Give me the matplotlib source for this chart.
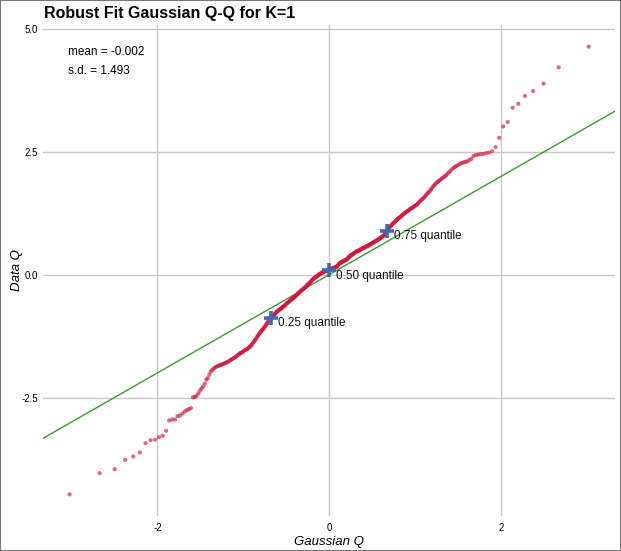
import matplotlib
matplotlib.use('Agg')
import matplotlib.pyplot as plt
from matplotlib.patches import Rectangle
from statistics import NormalDist

plt.rcParams['font.family'] = ['Liberation Sans', 'DejaVu Sans']

# sorted sample values (Data Q)
data_q = [
    -4.45, -4.02, -3.94, -3.75, -3.68, -3.60, -3.41, -3.35, -3.34, -3.29,
    -3.26, -3.16, -2.95, -2.93, -2.93, -2.86, -2.85, -2.81, -2.77, -2.74,
    -2.72, -2.70, -2.48, -2.47, -2.45, -2.40, -2.34, -2.30, -2.26, -2.20,
    -2.12, -2.09, -2.02, -1.96, -1.93, -1.90, -1.88, -1.86, -1.85, -1.84,
    -1.83, -1.82, -1.81, -1.80, -1.79, -1.78, -1.77, -1.76, -1.75, -1.73,
    -1.72, -1.71, -1.69, -1.68, -1.67, -1.65, -1.64, -1.62, -1.61, -1.59,
    -1.58, -1.57, -1.56, -1.55, -1.53, -1.52, -1.51, -1.50, -1.49, -1.48,
    -1.46, -1.45, -1.43, -1.41, -1.39, -1.36, -1.34, -1.32, -1.30, -1.27,
    -1.25, -1.23, -1.20, -1.18, -1.16, -1.14, -1.12, -1.11, -1.09, -1.07,
    -1.05, -1.03, -1.01, -0.99, -0.97, -0.94, -0.91, -0.88, -0.87, -0.86,
    -0.85, -0.84, -0.83, -0.81, -0.80, -0.79, -0.77, -0.76, -0.74, -0.73,
    -0.72, -0.71, -0.70, -0.69, -0.68, -0.67, -0.66, -0.65, -0.64, -0.63,
    -0.62, -0.61, -0.60, -0.58, -0.57, -0.56, -0.55, -0.54, -0.53, -0.52,
    -0.51, -0.50, -0.49, -0.48, -0.47, -0.46, -0.45, -0.44, -0.43, -0.42,
    -0.41, -0.40, -0.38, -0.37, -0.36, -0.35, -0.34, -0.33, -0.32, -0.31,
    -0.30, -0.29, -0.28, -0.27, -0.26, -0.25, -0.24, -0.23, -0.22, -0.21,
    -0.19, -0.18, -0.17, -0.16, -0.15, -0.14, -0.13, -0.11, -0.10, -0.09,
    -0.08, -0.07, -0.06, -0.05, -0.04, -0.04, -0.03, -0.02, -0.01, 0.00,
    0.01, 0.01, 0.02, 0.03, 0.03, 0.04, 0.05, 0.05, 0.06, 0.07,
    0.07, 0.08, 0.08, 0.08, 0.09, 0.09, 0.09, 0.10, 0.10, 0.10,
    0.11, 0.11, 0.12, 0.12, 0.13, 0.13, 0.14, 0.14, 0.15, 0.15,
    0.16, 0.16, 0.17, 0.17, 0.18, 0.19, 0.20, 0.22, 0.23, 0.24,
    0.25, 0.25, 0.26, 0.27, 0.27, 0.28, 0.29, 0.29, 0.30, 0.30,
    0.31, 0.31, 0.32, 0.33, 0.34, 0.35, 0.37, 0.38, 0.39, 0.40,
    0.41, 0.41, 0.42, 0.43, 0.44, 0.45, 0.45, 0.46, 0.47, 0.48,
    0.48, 0.49, 0.49, 0.50, 0.50, 0.51, 0.52, 0.52, 0.53, 0.54,
    0.54, 0.55, 0.56, 0.56, 0.57, 0.57, 0.58, 0.59, 0.59, 0.60,
    0.60, 0.61, 0.62, 0.63, 0.63, 0.64, 0.65, 0.66, 0.66, 0.67,
    0.68, 0.69, 0.69, 0.70, 0.71, 0.72, 0.72, 0.73, 0.74, 0.75,
    0.76, 0.77, 0.78, 0.79, 0.80, 0.81, 0.83, 0.86, 0.88, 0.90,
    0.92, 0.94, 0.96, 0.97, 0.99, 1.00, 1.02, 1.03, 1.05, 1.06,
    1.07, 1.09, 1.10, 1.12, 1.13, 1.15, 1.16, 1.17, 1.18, 1.20,
    1.21, 1.22, 1.24, 1.25, 1.26, 1.28, 1.29, 1.30, 1.31, 1.32,
    1.34, 1.35, 1.36, 1.37, 1.38, 1.40, 1.41, 1.42, 1.43, 1.45,
    1.47, 1.49, 1.51, 1.53, 1.55, 1.56, 1.58, 1.61, 1.63, 1.66,
    1.68, 1.70, 1.73, 1.76, 1.79, 1.82, 1.84, 1.87, 1.89, 1.91,
    1.93, 1.95, 1.97, 1.99, 2.01, 2.03, 2.06, 2.09, 2.12, 2.15,
    2.18, 2.20, 2.22, 2.24, 2.26, 2.28, 2.29, 2.30, 2.31, 2.34,
    2.36, 2.42, 2.44, 2.45, 2.46, 2.46, 2.48, 2.49, 2.52, 2.60,
    2.79, 3.02, 3.11, 3.40, 3.48, 3.64, 3.74, 3.89, 4.22, 4.64,
]

quantile_probs = [0.25, 0.50, 0.75]
quantile_vals = [-0.86, 0.105, 0.90]
quantile_labels = ['0.25 quantile', '0.50 quantile', '0.75 quantile']

fit_intercept = 0.01
fit_slope = 0.997
mean_txt = 'mean = -0.002'
sd_txt = 's.d. = 1.493'

x_ticks = [-2, 0, 2]
y_ticks = [-2.5, 0.0, 2.5, 5.0]

# theoretical gaussian quantiles for each rank
n = len(data_q)
nd = NormalDist()
gauss_q = [nd.inv_cdf((i + 0.5) / n) for i in range(n)]

fig = plt.figure(figsize=(6.21, 5.51), dpi=100)
ax = fig.add_axes([0.0697, 0.0635, 0.9206, 0.8911])

xlim = (-3.33, 3.33)
ylim = (-4.89, 5.08)

ax.plot(list(xlim), [fit_intercept + fit_slope * v for v in xlim],
        color='#3f9a2c', lw=1.0, zorder=2)
ax.scatter(gauss_q, data_q, s=9, color='#d3163e', alpha=0.65,
           edgecolors='none', zorder=3)

qx = [nd.inv_cdf(p) for p in quantile_probs]
ax.plot(qx, quantile_vals, linestyle='none', marker='+', markersize=10,
        markeredgewidth=2.6, color='#3a6db3', zorder=4)
for x, y, lab in zip(qx, quantile_vals, quantile_labels):
    ax.annotate(lab, (x, y), xytext=(5, -4), textcoords='offset points',
                fontsize=8.5, va='center', ha='left', color='#111111')

ax.text(0.044, 0.945, mean_txt, transform=ax.transAxes, fontsize=8.5,
        va='center', ha='left')
ax.text(0.044, 0.907, sd_txt, transform=ax.transAxes, fontsize=8.5,
        va='center', ha='left')

ax.set_xlim(xlim)
ax.set_ylim(ylim)
ax.set_xticks(x_ticks)
ax.set_xticklabels([str(t) for t in x_ticks])
ax.set_yticks(y_ticks)
ax.set_yticklabels(['%.1f' % t for t in y_ticks])
ax.tick_params(length=0, labelsize=7, pad=5)
ax.tick_params(axis='y', pad=4)
ax.grid(True, color='#c8c8c8', lw=1.0, zorder=0)
ax.set_axisbelow(True)
for s in ax.spines.values():
    s.set_visible(False)

ax.set_xlabel('Gaussian Q', fontsize=9.5, style='italic', labelpad=2)
ax.set_ylabel('Data Q', fontsize=9.5, style='italic', labelpad=-1.5)

fig.text(0.071, 0.976, 'Robust Fit Gaussian Q-Q for K=1', fontsize=11.5,
         fontweight='bold', ha='left', va='center')

fig.patches.append(Rectangle((0, 0), 1, 1, transform=fig.transFigure,
                             fill=False, edgecolor='#777777', lw=1.5))

fig.savefig('out.png', dpi=100)
